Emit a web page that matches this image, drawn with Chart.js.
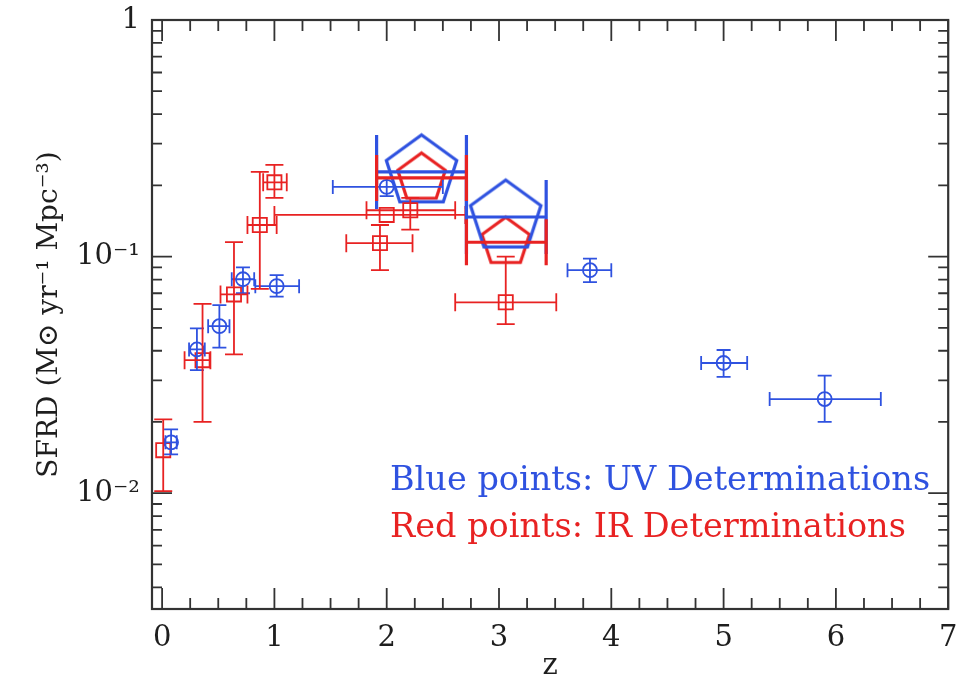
<!DOCTYPE html>
<html>
<head>
<meta charset="utf-8">
<script src="https://cdn.jsdelivr.net/npm/chart.js@4.4.1/dist/chart.umd.min.js"></script>
<style>
  body { margin: 0; background: #fff; }
</style>
</head>
<body>
<canvas id="sfrdChart" width="960" height="681"></canvas>
<script>
// UV determinations (blue circles)
const uvZ      = [0.08, 0.31, 0.51, 0.72, 1.02, 2.00, 3.81, 5.00, 5.90];
const uvZLo    = [0.03, 0.24, 0.41, 0.62, 0.83, 1.52, 3.61, 4.80, 5.41];
const uvZHi    = [0.13, 0.38, 0.60, 0.82, 1.22, 2.50, 4.00, 5.21, 6.40];
const uvSFRD   = [0.0164, 0.0405, 0.0508, 0.0802, 0.0750, 0.197, 0.0876, 0.0355, 0.0250];
const uvSFRDLo = [0.0146, 0.0331, 0.0412, 0.0700, 0.0677, 0.180, 0.0780, 0.0310, 0.0200];
const uvSFRDHi = [0.0186, 0.0497, 0.0623, 0.0900, 0.0835, 0.215, 0.0980, 0.0403, 0.0314];

// IR determinations (red squares)
const irZ      = [0.01, 0.36, 0.64, 0.87, 1.00, 1.94, 2.00, 2.21, 3.06];
const irZLo    = [0.01, 0.20, 0.52, 0.76, 0.90, 1.64, 1.00, 1.82, 2.61];
const irZHi    = [0.01, 0.43, 0.76, 1.02, 1.11, 2.23, 2.70, 2.61, 3.51];
const irSFRD   = [0.0152, 0.0365, 0.0692, 0.136, 0.206, 0.114, 0.150, 0.157, 0.0641];
const irSFRDLo = [0.0102, 0.0200, 0.0386, 0.073, 0.177, 0.0877, 0.150, 0.130, 0.0518];
const irSFRDHi = [0.0205, 0.0631, 0.1152, 0.228, 0.244, 0.136, 0.150, 0.177, 0.100];

// big pentagons (binned averages)
const bigZ      = [2.31, 3.06];
const bigZLo    = [1.91, 2.71];
const bigZHi    = [2.71, 3.42];
const bigUvSFRD = [0.228, 0.147];
const bigIrSFRD = [0.215, 0.115];

const xTicks = [0, 1, 2, 3, 4, 5, 6, 7];
const yTickLabels = { 1: '1', 0.1: '10\u207B\u00B9', 0.01: '10\u207B\u00B2' };
const uvLabel = 'Blue points: UV Determinations';
const irLabel = 'Red points: IR Determinations';

const BLUE = '#2f52e0';
const RED = '#e82222';
const INK = '#333333';
const TEXT = '#1e1e1e';

function points(z, zLo, zHi, v, vLo, vHi) {
    return z.map((zz, i) => ({
        x: zz, y: v[i],
        xMin: zLo[i], xMax: zHi[i],
        yMin: vLo ? vLo[i] : v[i], yMax: vHi ? vHi[i] : v[i]
    }));
}

// pentagon image used as point style
function pentagon(r, color, lw) {
    const c = document.createElement('canvas');
    const s = Math.ceil(2 * r + 2 * lw);
    c.width = s; c.height = s;
    const g = c.getContext('2d');
    g.strokeStyle = color;
    g.lineWidth = lw;
    g.beginPath();
    for (let k = 0; k < 5; k++) {
        const a = -Math.PI / 2 + k * 2 * Math.PI / 5;
        const px = s / 2 + r * Math.cos(a), py = s / 2 + r * Math.sin(a);
        if (k === 0) g.moveTo(px, py); else g.lineTo(px, py);
    }
    g.closePath();
    g.stroke();
    return c;
}

// error bars drawn through the scales
const errorBars = {
    id: 'errorBars',
    afterDatasetsDraw(chart) {
        const { ctx, scales: { x, y } } = chart;
        chart.data.datasets.forEach(ds => {
            ctx.save();
            ctx.strokeStyle = ds.borderColor;
            ctx.lineWidth = ds.errorWidth;
            const c = ds.capSize;
            ds.data.forEach(p => {
                const px = x.getPixelForValue(p.x), py = y.getPixelForValue(p.y);
                ctx.beginPath();
                if (p.xMin !== p.xMax) {
                    const x0 = x.getPixelForValue(p.xMin), x1 = x.getPixelForValue(p.xMax);
                    ctx.moveTo(x0, py); ctx.lineTo(x1, py);
                    ctx.moveTo(x0, py - c); ctx.lineTo(x0, py + c);
                    ctx.moveTo(x1, py - c); ctx.lineTo(x1, py + c);
                }
                if (p.yMin !== p.yMax) {
                    const y0 = y.getPixelForValue(p.yMin), y1 = y.getPixelForValue(p.yMax);
                    ctx.moveTo(px, y0); ctx.lineTo(px, y1);
                    ctx.moveTo(px - c, y0); ctx.lineTo(px + c, y0);
                    ctx.moveTo(px - c, y1); ctx.lineTo(px + c, y1);
                }
                ctx.stroke();
            });
            ctx.restore();
        });
    }
};

// box frame with inward ticks on all four sides, plus the text labels
const frame = {
    id: 'frame',
    afterDraw(chart) {
        const { ctx, chartArea: a, scales: { x, y } } = chart;
        ctx.save();
        ctx.strokeStyle = INK;
        ctx.lineWidth = 2.2;
        ctx.strokeRect(a.left, a.top, a.right - a.left, a.bottom - a.top);
        ctx.lineWidth = 1.8;
        ctx.beginPath();
        x.ticks.forEach(t => {
            const px = x.getPixelForValue(t.value);
            const len = t.major ? 21 : 11;
            ctx.moveTo(px, a.bottom); ctx.lineTo(px, a.bottom - len);
            ctx.moveTo(px, a.top); ctx.lineTo(px, a.top + len);
        });
        y.ticks.forEach(t => {
            const py = y.getPixelForValue(t.value);
            const len = t.major ? 20 : 10;
            ctx.moveTo(a.left, py); ctx.lineTo(a.left + len, py);
            ctx.moveTo(a.right, py); ctx.lineTo(a.right - len, py);
        });
        ctx.stroke();

        // legend text
        ctx.textBaseline = 'middle';
        ctx.textAlign = 'left';
        const target = 540;
        ctx.font = '100px "DejaVu Serif"';
        const size = 100 * target / ctx.measureText(uvLabel).width;
        ctx.font = size.toFixed(1) + 'px "DejaVu Serif"';
        ctx.fillStyle = BLUE;
        ctx.fillText(uvLabel, 390, 481);
        ctx.fillStyle = RED;
        ctx.fillText(irLabel, 390, 528);
        ctx.restore();
    }
};

const ctx = document.getElementById('sfrdChart').getContext('2d');
new Chart(ctx, {
    type: 'scatter',
    data: {
        datasets: [
            {
                label: 'UV',
                data: points(uvZ, uvZLo, uvZHi, uvSFRD, uvSFRDLo, uvSFRDHi),
                pointStyle: 'circle', pointRadius: 7,
                borderColor: BLUE, backgroundColor: 'rgba(0,0,0,0)', borderWidth: 1.8,
                errorWidth: 1.8, capSize: 7
            },
            {
                label: 'IR',
                data: points(irZ, irZLo, irZHi, irSFRD, irSFRDLo, irSFRDHi),
                pointStyle: 'rect', pointRadius: 10,
                borderColor: RED, backgroundColor: 'rgba(0,0,0,0)', borderWidth: 1.8,
                errorWidth: 1.8, capSize: 9
            },
            {
                label: 'UV binned',
                data: points(bigZ, bigZLo, bigZHi, bigUvSFRD),
                pointStyle: pentagon(37, BLUE, 3.2),
                borderColor: BLUE, errorWidth: 3.2, capSize: 37
            },
            {
                label: 'IR binned',
                data: points(bigZ, bigZLo, bigZHi, bigIrSFRD),
                pointStyle: pentagon(25, RED, 3.2),
                borderColor: RED, errorWidth: 3.2, capSize: 23
            }
        ]
    },
    options: {
        responsive: false,
        animation: false,
        layout: { padding: { top: 20, right: 10, left: 0, bottom: 0 } },
        plugins: { legend: { display: false }, tooltip: { enabled: false } },
        scales: {
            x: {
                type: 'linear',
                min: -0.09, max: 7,
                afterFit: s => { s.height = 72; s.paddingLeft = 0; s.paddingRight = 0; },
                afterBuildTicks: s => {
                    const t = [];
                    for (let v = 0; v <= 7; v += 0.25) t.push({ value: v, major: Number.isInteger(v) });
                    s.ticks = t;
                },
                grid: { display: false, drawTicks: false },
                border: { display: false },
                ticks: {
                    autoSkip: false, maxRotation: 0, padding: 12,
                    color: TEXT,
                    font: { family: 'DejaVu Serif', size: 29 },
                    callback: v => xTicks.includes(v) ? String(v) : ''
                },
                title: {
                    display: true, text: 'z', color: TEXT,
                    font: { family: 'DejaVu Serif', size: 29, lineHeight: 1 },
                    padding: { top: 0, bottom: 0 }
                }
            },
            y: {
                type: 'logarithmic',
                min: 0.00324, max: 1,
                afterFit: s => { s.width = 152; s.paddingTop = 0; s.paddingBottom = 0; },
                afterBuildTicks: s => {
                    const t = [];
                    for (let e = -3; e <= 0; e++) {
                        for (let m = 1; m <= 9; m++) {
                            const v = m * Math.pow(10, e);
                            if (v >= 0.00324 && v <= 1.0001) t.push({ value: v, major: m === 1 });
                        }
                    }
                    s.ticks = t;
                },
                grid: { display: false, drawTicks: false },
                border: { display: false },
                ticks: {
                    autoSkip: false, padding: 12,
                    color: TEXT,
                    font: { family: 'DejaVu Serif', size: 29 },
                    callback: v => {
                        const k = Object.keys(yTickLabels).find(key => Math.abs(Number(key) - v) < 1e-9);
                        return k ? yTickLabels[k] : '';
                    }
                },
                title: {
                    display: true, text: 'SFRD (M\u2299 yr\u207B\u00B9 Mpc\u207B\u00B3)', color: TEXT,
                    font: { family: 'DejaVu Serif', size: 28 },
                    padding: { top: 33, bottom: 0 }
                }
            }
        }
    },
    plugins: [errorBars, frame]
});
</script>
</body>
</html>
